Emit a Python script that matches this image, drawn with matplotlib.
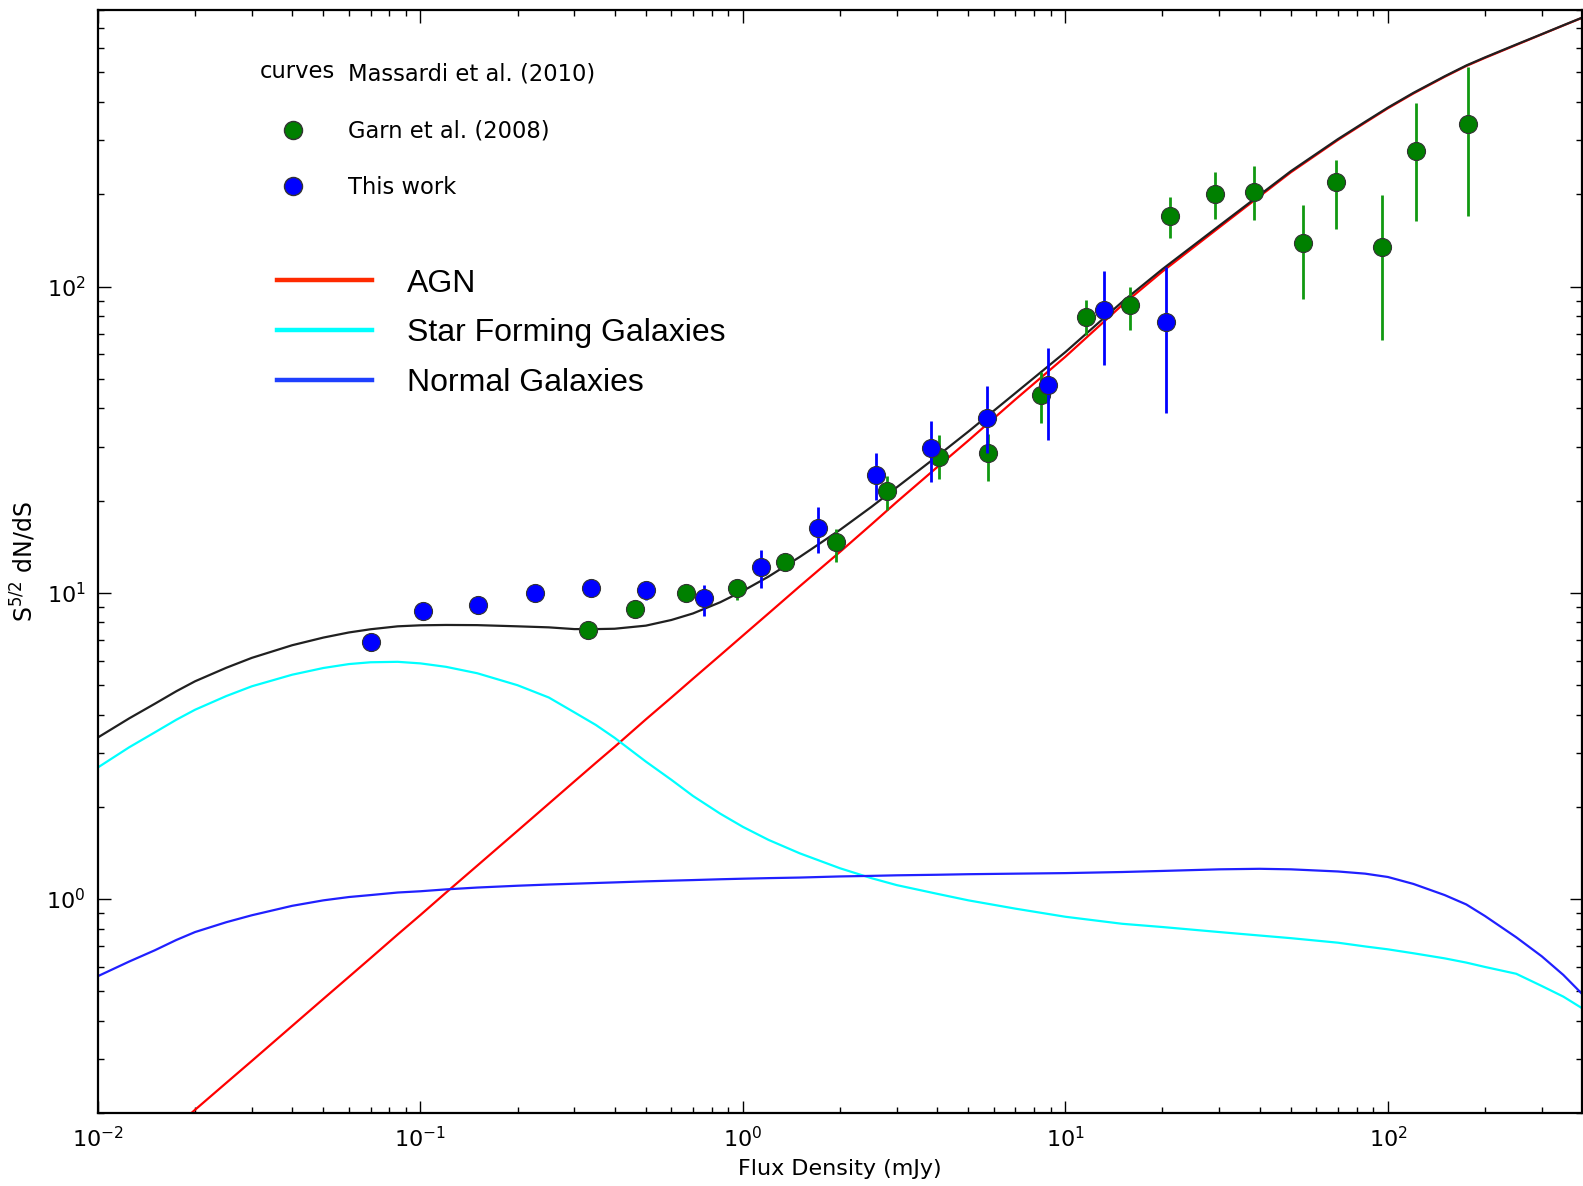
import matplotlib
matplotlib.use("Agg")
import matplotlib.pyplot as plt
from matplotlib.lines import Line2D
import numpy as np

# model curves (Massardi et al. 2010)
flux = [0.01, 0.0125, 0.015, 0.0175, 0.02, 0.025, 0.03, 0.04, 0.05, 0.06, 0.07, 0.085, 0.1, 0.12, 0.15,
        0.2, 0.25, 0.3, 0.35, 0.4, 0.5, 0.6, 0.7, 0.85, 1, 1.2, 1.5, 2, 2.5, 3, 4, 5, 7, 10, 15, 20,
        30, 40, 50, 70, 85, 100, 120, 150, 175, 200, 250, 300, 350, 400]
total = [3.37, 3.89, 4.34, 4.77, 5.14, 5.69, 6.13, 6.74, 7.14, 7.42, 7.60, 7.77, 7.83, 7.85, 7.84,
         7.77, 7.71, 7.61, 7.61, 7.63, 7.81, 8.15, 8.56, 9.31, 10.14, 11.29, 13.09, 16.05, 19.06, 22.1,
         27.9, 33.6, 44.9, 61.1, 89.1, 114, 158, 199, 238, 303, 345, 384, 429, 486, 527, 560, 617,
         667, 713, 755]
agn = [0.1, 0.133, 0.157, 0.181, 0.205, 0.251, 0.296, 0.385, 0.472, 0.557, 0.641, 0.766, 0.887, 1.049,
       1.285, 1.67, 2.048, 2.42, 2.785, 3.14, 3.86, 4.55, 5.24, 6.25, 7.25, 8.56, 10.5, 13.6, 16.7, 19.8,
       25.7, 31.4, 42.8, 59, 87, 112, 156, 197, 236, 301, 343, 382, 427, 484, 525, 558, 615, 666, 712, 754]
sfg = [2.69, 3.13, 3.5, 3.85, 4.15, 4.6, 4.95, 5.4, 5.68, 5.85, 5.93, 5.95, 5.88, 5.73, 5.46,
       4.99, 4.55, 4.07, 3.7, 3.36, 2.81, 2.45, 2.17, 1.9, 1.72, 1.56, 1.41, 1.26, 1.17, 1.11,
       1.04, 0.99, 0.93, 0.875, 0.83, 0.81, 0.78, 0.76, 0.745, 0.72, 0.70, 0.685, 0.665, 0.64, 0.62,
       0.60, 0.57, 0.52, 0.48, 0.44]
normal = [0.56, 0.625, 0.68, 0.735, 0.78, 0.84, 0.885, 0.95, 0.99, 1.015, 1.03, 1.05, 1.06, 1.075, 1.09,
          1.105, 1.115, 1.122, 1.128, 1.133, 1.142, 1.148, 1.153, 1.16, 1.165, 1.17, 1.175, 1.185, 1.19,
          1.195, 1.2, 1.205, 1.21, 1.215, 1.225, 1.235, 1.25, 1.255, 1.25, 1.23, 1.21, 1.18, 1.12, 1.03,
          0.96, 0.88, 0.75, 0.65, 0.565, 0.49]

# Garn et al. (2008)
garn_s = [0.33, 0.464, 0.668, 0.957, 1.35, 1.94, 2.8, 4.06, 5.74, 8.41, 11.6, 15.85, 21.1, 29, 38.4,
          54.6, 68.8, 95.7, 122, 177]
garn_y = [7.57, 8.82, 10.0, 10.35, 12.6, 14.6, 21.5, 27.8, 28.5, 44.3, 79.6, 87.2, 170, 200, 203,
          139, 219, 135, 277, 340]
garn_lo = [7.24, 8.5, 9.7, 9.45, 11.9, 12.6, 18.7, 23.5, 23.2, 35.8, 69.6, 72.1, 144, 166.5, 164.6,
           91.3, 154, 66.8, 164, 170]
garn_hi = [8.11, 9.1, 10.3, 11.0, 13.5, 16.1, 24.1, 32.7, 33.1, 52.4, 90.5, 100, 195.6, 236, 247,
           184, 258, 198.5, 396, 521]

# this work
work_s = [0.0703, 0.1015, 0.151, 0.227, 0.337, 0.501, 0.756, 1.14, 1.71, 2.59, 3.84, 5.7, 8.85, 13.2, 20.5]
work_y = [6.91, 8.75, 9.09, 9.96, 10.35, 10.2, 9.59, 12.1, 16.3, 24.3, 29.6, 37.2, 47.8, 84, 76.6]
work_lo = [6.7, 8.5, 8.8, 9.7, 10.0, 9.45, 8.42, 10.35, 13.5, 20.1, 23.0, 28.5, 31.5, 55.5, 38.6]
work_hi = [7.1, 9.0, 9.4, 10.2, 10.7, 10.8, 10.6, 13.8, 19.0, 28.5, 36.3, 47.4, 63.2, 112, 116]

plt.rcParams['font.family'] = 'DejaVu Sans'
plt.rcParams['mathtext.fontset'] = 'dejavusans'

fig = plt.figure(figsize=(15.83, 11.86), dpi=100)
ax = fig.add_axes([0.0619, 0.0615, 0.9375, 0.9301])

ax.plot(flux, agn, color='red', lw=1.6)
ax.plot(flux, sfg, color='cyan', lw=1.6)
ax.plot(flux, normal, color='#2020ff', lw=1.6)
ax.plot(flux, total, color='#202020', lw=1.6)

gy = np.array(garn_y)
ax.errorbar(garn_s, garn_y, yerr=[gy - np.array(garn_lo), np.array(garn_hi) - gy], fmt='o',
            color='green', ecolor='#119911', elinewidth=2, ms=13, mec='#333333', mew=0.8, zorder=4)
wy = np.array(work_y)
ax.errorbar(work_s, work_y, yerr=[wy - np.array(work_lo), np.array(work_hi) - wy], fmt='o',
            color='blue', ecolor='blue', elinewidth=2, ms=13, mec='#333333', mew=0.8, zorder=5)

ax.set_xscale('log')
ax.set_yscale('log')
ax.set_xlim(0.01, 400)
ax.set_ylim(0.2, 800)

ax.tick_params(which='both', direction='in', top=True, right=True, labelsize=16, width=1)
ax.tick_params(which='major', length=9, pad=9)
ax.tick_params(which='minor', length=4.5)
for s in ax.spines.values():
    s.set_linewidth(1.6)

ax.set_xlabel('Flux Density (mJy)', fontsize=16, labelpad=6)
ax.set_ylabel(r'S$^{5/2}$ dN/dS', fontsize=17, labelpad=6)

# first legend: data sets
h1 = [Line2D([], [], ls='none'),
      Line2D([], [], ls='none', marker='o', color='green', mec='#333333', ms=13),
      Line2D([], [], ls='none', marker='o', color='blue', mec='#333333', ms=13)]
leg1 = ax.legend(h1, ['Massardi et al. (2010)', 'Garn et al. (2008)', 'This work'],
                 loc='upper left', bbox_to_anchor=(0.116, 0.952), frameon=False, fontsize=16.3,
                 numpoints=1, handlelength=2.0, handletextpad=1.45, labelspacing=1.49,
                 borderpad=0, borderaxespad=0)
ax.add_artist(leg1)
ax.text(0.109, 0.9445, 'curves', transform=ax.transAxes, fontsize=16.3, va='center', ha='left')

# second legend: model components
h2 = [Line2D([], [], color='#ff2a00', lw=3.2),
      Line2D([], [], color='cyan', lw=3.2),
      Line2D([], [], color='#1e40ff', lw=3.2)]
ax.legend(h2, ['AGN', 'Star Forming Galaxies', 'Normal Galaxies'], loc='upper left',
          bbox_to_anchor=(0.1203, 0.7656), frameon=False, prop={'family': 'Liberation Sans', 'size': 23},
          handlelength=3.0, handletextpad=1.08, labelspacing=0.62, borderpad=0, borderaxespad=0)

fig.savefig('out.png', dpi=100)
